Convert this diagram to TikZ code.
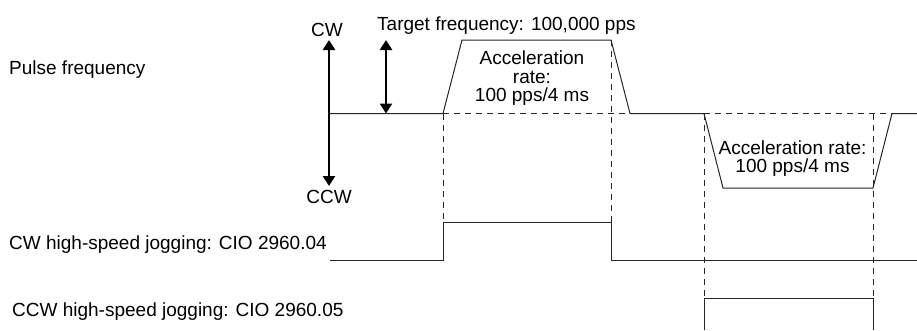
\documentclass[tikz,border=0pt]{standalone}
\usepackage{fontspec}
\setmainfont{Liberation Sans}
\usetikzlibrary{arrows.meta}
\begin{document}
\begin{tikzpicture}[x=1pt,y=-1pt,
  sig/.style={line width=1pt,black!85},
  guide/.style={line width=0.9pt,black!85,dash pattern=on 6pt off 5pt},
  bigarrow/.style={line width=2.8pt,{Triangle[width=12pt,length=10pt]}-{Triangle[width=12pt,length=10pt]}},
  lbl/.style={inner sep=0pt,font=\fontsize{19}{19}\selectfont}]
\useasboundingbox (0,0) rectangle (917,330);
% key coordinates
\coordinate (b0) at (329,113.5);
\coordinate (r1) at (443,113.5);
\coordinate (t1) at (462,40);
\coordinate (t2) at (611,40);
\coordinate (r2) at (630,113.5);
\coordinate (d1) at (704,113.5);
\coordinate (l1) at (723,188);
\coordinate (l2) at (873,188);
\coordinate (d2) at (892,113.5);
\coordinate (bE) at (917,113.5);
% frequency profile
\draw[sig] (b0) -- (r1) -- (t1) -- (t2) -- (r2) -- (d1) -- (l1) -- (l2) -- (d2) -- (bE);
\draw[guide] (r1) -- (r2);
\draw[guide] (d1) -- (d2);
% arrows
\coordinate (aT) at (329,40);
\coordinate (aB) at (329,186);
\draw[bigarrow] (aT) -- (aB);
\coordinate (tT) at (386,40);
\coordinate (tB) at (386,113.5);
\draw[bigarrow] (tT) -- (tB);
% CW jogging signal
\coordinate (c0) at (330,260.5);
\coordinate (c1) at (443,260.5);
\coordinate (c2) at (443,222.5);
\coordinate (c3) at (611,222.5);
\coordinate (c4) at (611,260.5);
\coordinate (c5) at (917,260.5);
\draw[sig] (c0) -- (c1) -- (c2) -- (c3) -- (c4) -- (c5);
% CCW jogging signal
\coordinate (e0) at (704,330);
\coordinate (e1) at (704,298);
\coordinate (e2) at (873,298);
\coordinate (e3) at (873,330);
\draw[sig] (e0) -- (e1) -- (e2) -- (e3);
% dashed guides
\draw[guide] (r1) -- (c2);
\draw[guide] (t2) -- (c3);
\draw[guide] (d1) -- (e1);
\draw[guide] (873,113.5) -- (e2);
% labels
\node[lbl,anchor=base] (cw) at (327,36) {CW};
\node[lbl,anchor=base] (ccw) at (329,203) {CCW};
\node[lbl,anchor=base west] (tf) at (377,30) {Target frequency: 100,000 pps};
\node[lbl,anchor=base west] (pf) at (9,74) {Pulse frequency};
\node[lbl,anchor=base west] (cwj) at (9,249) {CW high-speed jogging: CIO 2960.04};
\node[lbl,anchor=base west] (ccwj) at (12,316) {CCW high-speed jogging: CIO 2960.05};
\node[lbl,anchor=base] (ac1) at (532,64) {Acceleration};
\node[lbl,anchor=base] (ac2) at (532,83) {rate:};
\node[lbl,anchor=base] (ac3) at (532,101.5) {100 pps/4 ms};
\node[lbl,anchor=base] (ad1) at (792.5,154) {Acceleration rate:};
\node[lbl,anchor=base] (ad2) at (792.5,172) {100 pps/4 ms};
\end{tikzpicture}
\end{document}
